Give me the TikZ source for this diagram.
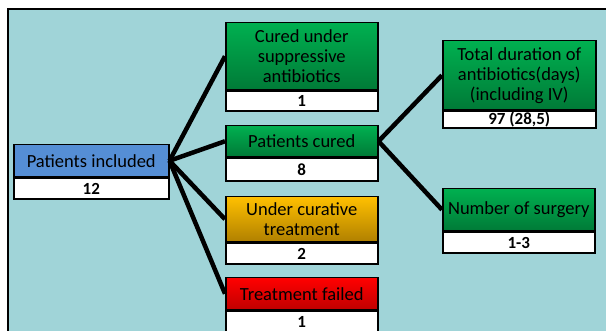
\documentclass[tikz,border=0pt]{standalone}
\usepackage{fontspec}
\setmainfont{Carlito}
\usetikzlibrary{positioning}

\definecolor{bgteal}{HTML}{A0D4D8}
\definecolor{boxblue}{HTML}{558ED5}
\definecolor{greentop}{HTML}{00B050}
\definecolor{greenbot}{HTML}{007A37}
\definecolor{ambertop}{HTML}{FFC000}
\definecolor{amberbot}{HTML}{B08000}
\definecolor{redtop}{HTML}{FF0000}
\definecolor{redbot}{HTML}{C00000}

\tikzset{
  hdr/.style={draw=black, line width=1.5pt, anchor=north west, align=center,
    inner sep=1pt, font=\fontsize{18.5}{20}\selectfont},
  greenhdr/.style={hdr, top color=greentop, bottom color=greenbot},
  val/.style={draw=black, line width=1.5pt, fill=white, below=0pt of #1,
    minimum height=21pt, inner sep=0pt, font=\fontsize{17}{18}\selectfont\bfseries},
  link/.style={line width=4.5pt}
}

\begin{document}
\begin{tikzpicture}[x=1pt,y=-1pt]
\clip (0,0) rectangle (606,331);
% the teal panel with its black frame
\draw[fill=bgteal, line width=2pt] (8,9) rectangle (620,345);

% first column
\node[hdr, fill=boxblue, minimum width=155pt, minimum height=32pt] (incl) at (13,144) {Patients included};
\node[val=incl, minimum width=155pt] (inclv) {12};

% second column
\node[greenhdr, minimum width=152pt, minimum height=67pt] (supp) at (225,22) {Cured under\\suppressive\\antibiotics};
\node[val=supp, minimum width=152pt, minimum height=20pt] (suppv) {1};
\node[greenhdr, minimum width=152pt, minimum height=31pt] (cured) at (225,125) {Patients cured};
\node[val=cured, minimum width=152pt, minimum height=23pt] (curedv) {8};
\node[hdr, top color=ambertop, bottom color=amberbot, minimum width=152pt, minimum height=45pt] (curat) at (225,196) {Under curative\\treatment};
\node[val=curat, minimum width=152pt] (curatv) {2};
\node[hdr, top color=redtop, bottom color=redbot, minimum width=152pt, minimum height=32pt] (fail) at (225,277) {Treatment failed};
\node[val=fail, minimum width=152pt] (failv) {1};

% third column
\node[greenhdr, minimum width=153pt, minimum height=69pt] (dur) at (442,40) {Total duration of\\antibiotics(days)\\(including IV)};
\node[val=dur, minimum width=153pt, minimum height=17pt] (durv) {97 (28,5)};
\node[greenhdr, minimum width=152pt, minimum height=42pt] (surg) at (442,188) {Number of surgery};
\node[val=surg, minimum width=152pt] (surgv) {1-3};

% the connectors
\draw[link] (incl.east) -- (supp.west);
\draw[link] (incl.east) -- (cured.west);
\draw[link] (incl.east) -- (curat.west);
\draw[link] (incl.east) -- (fail.west);
\draw[link] (cured.east) -- (dur.west);
\draw[link] (cured.east) -- (surg.west);
\end{tikzpicture}
\end{document}
